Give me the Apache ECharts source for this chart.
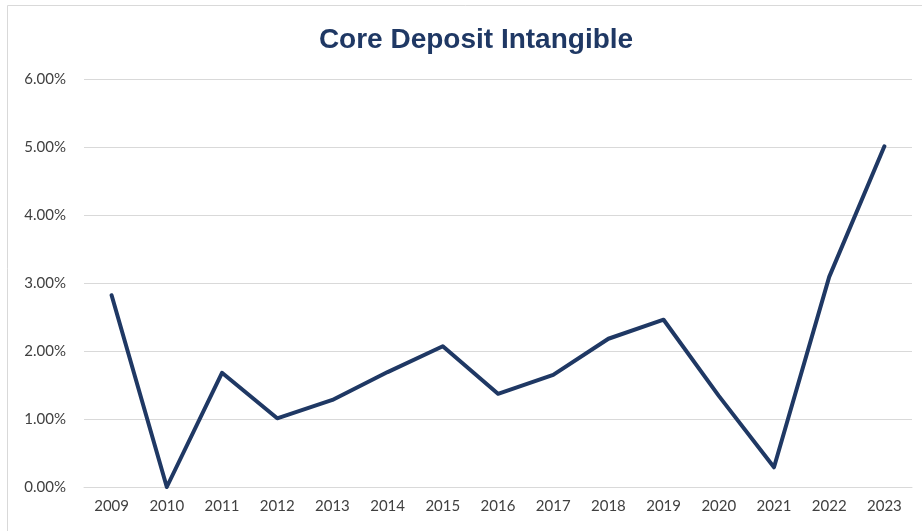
<!DOCTYPE html>
<html>
<head>
<meta charset="utf-8">
<title>Core Deposit Intangible</title>
<script src="https://cdn.jsdelivr.net/npm/echarts@6/dist/echarts.min.js"></script>
<style>
  html, body { margin: 0; padding: 0; background: #fff; }
  #chart { width: 922px; height: 531px; }
</style>
</head>
<body>
<div id="chart"></div>
<script>
// years on the x axis
var years = ['2009', '2010', '2011', '2012', '2013', '2014', '2015', '2016',
             '2017', '2018', '2019', '2020', '2021', '2022', '2023'];
// core deposit intangible, percent
var cdiValues = [2.82, 0.00, 1.68, 1.01, 1.28, 1.69, 2.07, 1.37,
                 1.65, 2.18, 2.46, 1.34, 0.29, 3.09, 5.01];

var chart = echarts.init(document.getElementById('chart'));
chart.setOption({
  animation: false,
  title: {
    text: 'Core Deposit Intangible',
    left: 471,
    textAlign: 'center',
    top: 21,
    textStyle: {
      fontFamily: 'Liberation Sans',
      fontSize: 28,
      fontWeight: 'bold',
      color: '#1F3864'
    }
  },
  graphic: [{
    type: 'rect',
    shape: { x: 7.5, y: 5.5, width: 930, height: 540 },
    style: { fill: 'none', stroke: '#d9d9d9', lineWidth: 1 }
  }],
  grid: { left: 84, right: 10, top: 79, bottom: 44 },
  xAxis: {
    type: 'category',
    data: years,
    boundaryGap: true,
    axisLine: { show: true, lineStyle: { color: '#d9d9d9', width: 1 } },
    axisTick: { show: false },
    axisLabel: {
      fontFamily: 'Lato',
      fontSize: 15,
      color: '#404040',
      margin: 12
    }
  },
  yAxis: {
    type: 'value',
    min: 0,
    max: 6,
    interval: 1,
    axisLine: { show: false },
    axisTick: { show: false },
    splitLine: { lineStyle: { color: '#d9d9d9', width: 1 } },
    axisLabel: {
      fontFamily: 'Lato',
      fontSize: 15,
      color: '#404040',
      margin: 18,
      formatter: function (v) { return v.toFixed(2) + '%'; }
    }
  },
  series: [{
    type: 'line',
    data: cdiValues,
    symbol: 'none',
    lineStyle: { color: '#1F3864', width: 4, cap: 'round', join: 'round' }
  }]
});
</script>
</body>
</html>
